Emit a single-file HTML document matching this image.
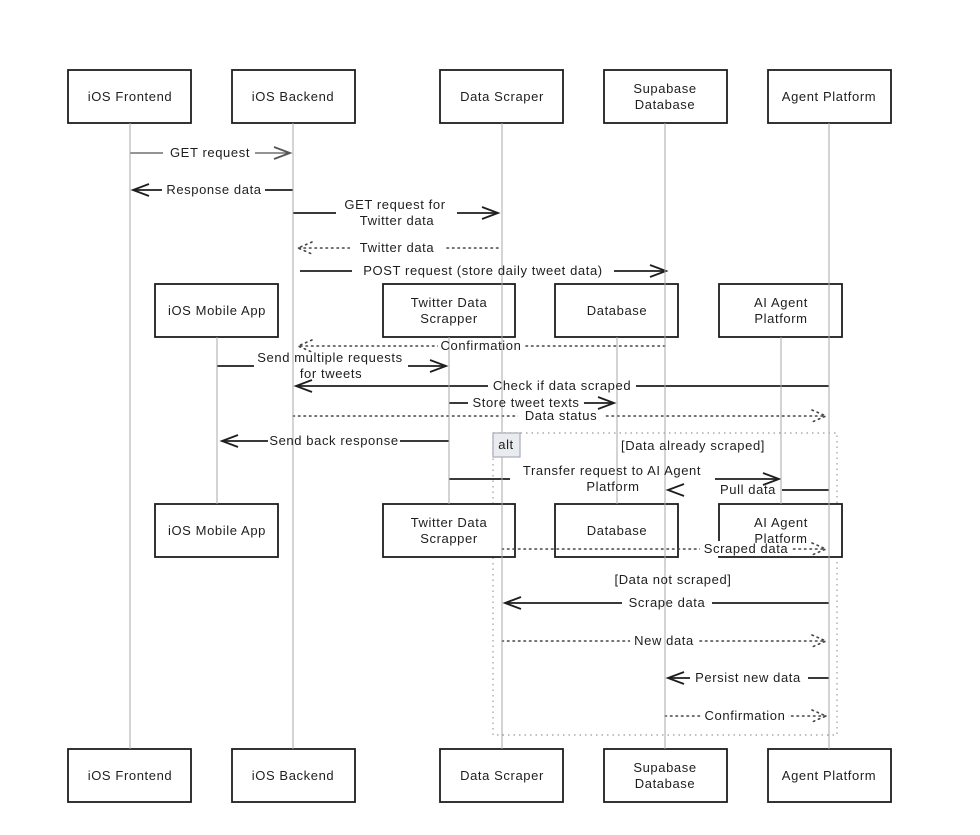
<!DOCTYPE html>
<html><head><meta charset="utf-8"><style>
html,body{margin:0;padding:0;background:#fff;}
svg{display:block;}
text{font-family:"Liberation Sans",sans-serif;font-size:13px;letter-spacing:0.6px;fill:#1e1e1e;}
.box{fill:#fff;stroke:#1e1e1e;stroke-width:1.8;}
.life{stroke:#aaa;stroke-width:1;}
.m{stroke:#1e1e1e;stroke-width:1.8;fill:none;}
.d{stroke:#444;stroke-width:1.6;stroke-dasharray:1.5 4;fill:none;stroke-linecap:round;}
.ah{stroke:#1e1e1e;stroke-width:1.8;fill:none;}
.bg{fill:#fff;}
</style></head><body>
<svg width="980" height="835" viewBox="0 0 980 835" xmlns="http://www.w3.org/2000/svg">
<rect x="493" y="433" width="344" height="302" fill="none" stroke="#aaa" stroke-width="1.4" stroke-dasharray="1.5 4"/>

<line class="m" x1="130" y1="153" x2="290" y2="153" style="stroke:#555;stroke-width:1.3"/>
<line class="m" x1="293" y1="190" x2="133" y2="190"/>
<line class="m" x1="293" y1="213" x2="498" y2="213"/>
<line class="d" x1="498" y1="248" x2="298" y2="248"/>
<line class="m" x1="300" y1="271" x2="666" y2="271"/>
<line class="d" x1="665" y1="346" x2="298" y2="346"/>
<line class="m" x1="217" y1="366" x2="446" y2="366"/>
<line class="m" x1="829" y1="386" x2="296" y2="386"/>
<line class="m" x1="449" y1="403" x2="614" y2="403"/>
<line class="d" x1="293" y1="416" x2="826" y2="416"/>
<line class="m" x1="449" y1="441" x2="222" y2="441"/>
<line class="m" x1="449" y1="479" x2="779" y2="479"/>
<line class="m" x1="829" y1="490" x2="668" y2="490"/>

<rect class="bg" x="163" y="144" width="92" height="17"/>
<rect class="bg" x="162" y="181" width="103" height="17"/>
<rect class="bg" x="336" y="197" width="121" height="32"/>
<rect class="bg" x="350" y="240" width="94" height="16"/>
<rect class="bg" x="352" y="263" width="262" height="16"/>
<rect class="bg" x="438" y="338" width="86" height="16"/>
<rect class="bg" x="254" y="350" width="154" height="32"/>
<rect class="bg" x="488" y="378" width="148" height="16"/>
<rect class="bg" x="468" y="395" width="116" height="16"/>
<rect class="bg" x="518" y="408" width="86" height="16"/>
<rect class="bg" x="268" y="433" width="132" height="16"/>
<rect class="bg" x="510" y="462" width="205" height="34"/>
<rect class="bg" x="714" y="482" width="68" height="16"/>

<polyline class="ah" points="274,147 290,153 274,159" style="stroke:#555"/>
<polyline class="ah" points="149,184 133,190 149,196"/>
<polyline class="ah" points="482,207 498,213 482,219"/>
<polyline class="d" points="312,242 298,248 312,254"/>
<polyline class="ah" points="650,265 666,271 650,277"/>
<polyline class="d" points="312,340 298,346 312,352"/>
<polyline class="ah" points="430,360 446,366 430,372"/>
<polyline class="ah" points="312,380 296,386 312,392"/>
<polyline class="ah" points="598,397 614,403 598,409"/>
<polyline class="d" points="812,410 826,416 812,422"/>
<polyline class="ah" points="238,435 222,441 238,447"/>
<polyline class="ah" points="763,473 779,479 763,485"/>
<polyline class="ah" points="684,484 668,490 684,496"/>

<rect class="box" x="68" y="70" width="123" height="53"/>
<rect class="box" x="232" y="70" width="123" height="53"/>
<rect class="box" x="440" y="70" width="123" height="53"/>
<rect class="box" x="604" y="70" width="123" height="53"/>
<rect class="box" x="768" y="70" width="123" height="53"/>
<rect class="box" x="68" y="749" width="123" height="53"/>
<rect class="box" x="232" y="749" width="123" height="53"/>
<rect class="box" x="440" y="749" width="123" height="53"/>
<rect class="box" x="604" y="749" width="123" height="53"/>
<rect class="box" x="768" y="749" width="123" height="53"/>
<rect class="box" x="155" y="284" width="123" height="53"/>
<rect class="box" x="383" y="284" width="132" height="53"/>
<rect class="box" x="555" y="284" width="123" height="53"/>
<rect class="box" x="719" y="284" width="123" height="53"/>
<rect class="box" x="155" y="504" width="123" height="53"/>
<rect class="box" x="383" y="504" width="132" height="53"/>
<rect class="box" x="555" y="504" width="123" height="53"/>
<rect class="box" x="719" y="504" width="123" height="53"/>

<line class="d" x1="502" y1="549" x2="826" y2="549"/>
<rect class="bg" x="700" y="541" width="92" height="15"/>
<polyline class="d" points="812,543 826,549 812,555"/>
<line class="m" x1="829" y1="603" x2="505" y2="603"/>
<rect class="bg" x="622" y="595" width="90" height="16"/>
<polyline class="ah" points="521,597 505,603 521,609"/>
<line class="d" x1="502" y1="641" x2="826" y2="641"/>
<rect class="bg" x="630" y="633" width="68" height="16"/>
<polyline class="d" points="812,635 826,641 812,647"/>
<line class="m" x1="829" y1="678" x2="668" y2="678"/>
<rect class="bg" x="690" y="670" width="118" height="16"/>
<polyline class="ah" points="684,672 668,678 684,684"/>
<line class="d" x1="665" y1="716" x2="826" y2="716"/>
<rect class="bg" x="702" y="708" width="86" height="16"/>
<polyline class="d" points="812,710 826,716 812,722"/>

<line class="life" x1="130" y1="123" x2="130" y2="749"/>
<line class="life" x1="293" y1="123" x2="293" y2="749"/>
<line class="life" x1="502" y1="123" x2="502" y2="749"/>
<line class="life" x1="665" y1="123" x2="665" y2="749"/>
<line class="life" x1="829" y1="123" x2="829" y2="749"/>
<line class="life" x1="217" y1="337" x2="217" y2="504"/>
<line class="life" x1="449" y1="337" x2="449" y2="504"/>
<line class="life" x1="617" y1="337" x2="617" y2="504"/>
<line class="life" x1="781" y1="337" x2="781" y2="504"/>

<rect x="493" y="433" width="27" height="24" fill="#e9ecef" stroke="#aab" stroke-width="1.2"/>
<text x="506" y="449" text-anchor="middle">alt</text>

<g text-anchor="middle">
<text x="130" y="101">iOS Frontend</text>
<text x="293" y="101">iOS Backend</text>
<text x="502" y="101">Data Scraper</text>
<text x="665" y="93">Supabase</text><text x="665" y="109">Database</text>
<text x="829" y="101">Agent Platform</text>
<text x="130" y="780">iOS Frontend</text>
<text x="293" y="780">iOS Backend</text>
<text x="502" y="780">Data Scraper</text>
<text x="665" y="772">Supabase</text><text x="665" y="788">Database</text>
<text x="829" y="780">Agent Platform</text>
<text x="217" y="315">iOS Mobile App</text>
<text x="449" y="307">Twitter Data</text><text x="449" y="323">Scrapper</text>
<text x="617" y="315">Database</text>
<text x="781" y="307">AI Agent</text><text x="781" y="323">Platform</text>
<text x="217" y="535">iOS Mobile App</text>
<text x="449" y="527">Twitter Data</text><text x="449" y="543">Scrapper</text>
<text x="617" y="535">Database</text>
<text x="781" y="527">AI Agent</text><text x="781" y="543">Platform</text>

<text x="210" y="157">GET request</text>
<text x="214" y="194">Response data</text>
<text x="395" y="209">GET request for</text><text x="397" y="225">Twitter data</text>
<text x="397" y="252">Twitter data</text>
<text x="483" y="275">POST request (store daily tweet data)</text>
<text x="481" y="350">Confirmation</text>
<text x="330" y="362">Send multiple requests</text><text x="331" y="378">for tweets</text>
<text x="562" y="390">Check if data scraped</text>
<text x="526" y="407">Store tweet texts</text>
<text x="561" y="420">Data status</text>
<text x="334" y="445">Send back response</text>
<text x="693" y="450">[Data already scraped]</text>
<text x="612" y="475">Transfer request to AI Agent</text><text x="613" y="491">Platform</text>
<text x="748" y="494">Pull data</text>
<text x="746" y="553">Scraped data</text>
<text x="673" y="584">[Data not scraped]</text>
<text x="667" y="607">Scrape data</text>
<text x="664" y="645">New data</text>
<text x="748" y="682">Persist new data</text>
<text x="745" y="720">Confirmation</text>
</g>
</svg>
</body></html>
